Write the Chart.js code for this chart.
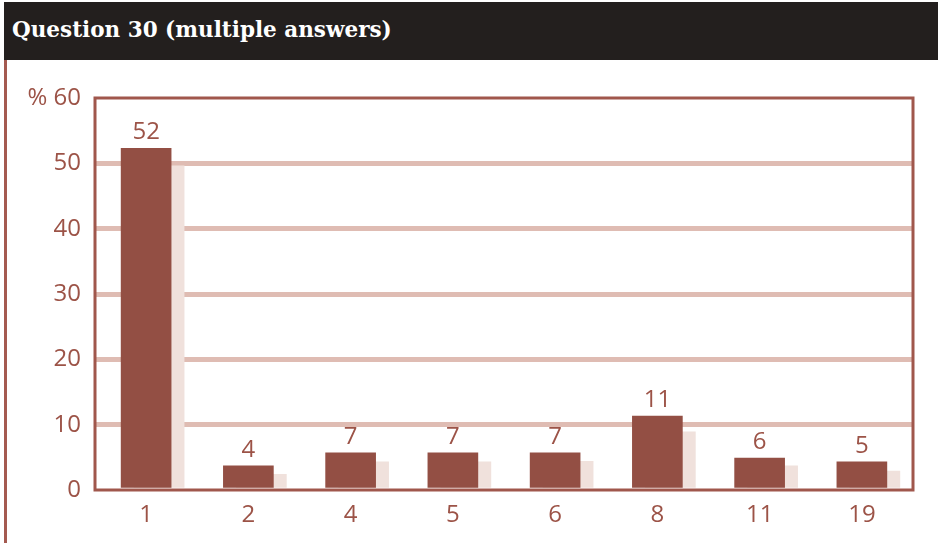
<!DOCTYPE html>
<html>
<head>
<meta charset="utf-8">
<script src="https://cdn.jsdelivr.net/npm/chart.js@4/dist/chart.umd.min.js"></script>
<style>
  html, body { margin: 0; padding: 0; background: #ffffff; width: 938px; height: 543px; overflow: hidden; }
  #title { position: absolute; left: 4px; top: 2px; width: 934px; height: 58px; background: #231f1e;
           color: #ffffff; font-family: "DejaVu Serif", serif; font-weight: bold; font-size: 21.5px;
           line-height: 56px; padding-left: 8px; box-sizing: border-box; white-space: nowrap; }
  #vline { position: absolute; left: 4px; top: 60px; width: 2.5px; height: 483px; background: #a45a50; }
  #wrap { position: absolute; left: 0; top: 60px; width: 938px; height: 483px; }
</style>
</head>
<body>
<div id="title">Question 30 (multiple answers)</div>
<div id="vline"></div>
<div id="wrap"><canvas id="c" width="938" height="483"></canvas></div>
<script>
const categories = ['1', '2', '4', '5', '6', '8', '11', '19'];
const mainValues = [52.3, 3.7, 5.7, 5.7, 5.7, 11.3, 4.9, 4.3];
const shadowValues = [49.6, 2.4, 4.3, 4.3, 4.4, 8.9, 3.7, 2.9];
const valueLabels = ['52', '4', '7', '7', '7', '11', '6', '5'];
const yTicks = [0, 10, 20, 30, 40, 50, 60];

const TEXT = '#9c5347';
const FONT = { family: '"Open Sans", sans-serif', size: 24 };

const shadowOffset = {
  id: 'shadowOffset',
  beforeDatasetDraw(chart, args) {
    if (args.index === 1) { chart.ctx.save(); chart.ctx.translate(13, 0); }
  },
  afterDatasetDraw(chart, args) {
    if (args.index === 1) { chart.ctx.restore(); }
  }
};

const frameAndLabels = {
  id: 'frameAndLabels',
  afterDatasetsDraw(chart) {
    const ctx = chart.ctx;
    const a = chart.chartArea;
    ctx.save();
    ctx.strokeStyle = '#a0574c';
    ctx.lineWidth = 3;
    ctx.strokeRect(a.left, a.top, a.right - a.left, a.bottom - a.top);
    const meta = chart.getDatasetMeta(0);
    ctx.fillStyle = TEXT;
    ctx.font = FONT.size + 'px ' + FONT.family;
    ctx.textAlign = 'center';
    ctx.textBaseline = 'alphabetic';
    meta.data.forEach((el, i) => {
      ctx.fillText(valueLabels[i], el.x, el.y - 9);
    });
    ctx.restore();
  }
};

new Chart(document.getElementById('c'), {
  type: 'bar',
  data: {
    labels: categories,
    datasets: [
      { data: mainValues, backgroundColor: '#934f44', barThickness: 50, order: 0 },
      { data: shadowValues, backgroundColor: '#f0e1dc', barThickness: 50, order: 1 }
    ]
  },
  options: {
    responsive: false,
    animation: false,
    events: [],
    layout: { padding: { top: 38, right: 25, left: 0, bottom: 0 } },
    plugins: { legend: { display: false }, tooltip: { enabled: false }, title: { display: false } },
    datasets: { bar: { grouped: false } },
    scales: {
      x: {
        grid: { display: false, drawTicks: false },
        border: { display: false },
        ticks: { color: TEXT, font: FONT, padding: 11 },
        afterFit(s) { s.height = 53; }
      },
      y: {
        min: 0, max: 60,
        afterBuildTicks(s) { s.ticks = yTicks.map(v => ({ value: v })); },
        grid: {
          drawTicks: false,
          lineWidth: 5,
          color(ctx) { return (ctx.tick && (ctx.tick.value === 0 || ctx.tick.value === 60)) ? 'rgba(0,0,0,0)' : '#dfbcb3'; }
        },
        border: { display: false },
        ticks: {
          color: TEXT, font: FONT, padding: 14,
          callback(v) { return v === 60 ? '% 60' : String(v); }
        },
        afterFit(s) { s.width = 95; }
      }
    }
  },
  plugins: [shadowOffset, frameAndLabels]
});
</script>
</body>
</html>
